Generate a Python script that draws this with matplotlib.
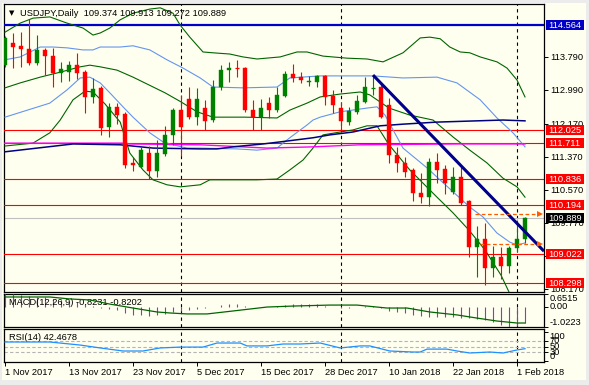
import matplotlib
matplotlib.use("Agg")
import matplotlib.pyplot as plt
import matplotlib.transforms as mtrans
from matplotlib.patches import Rectangle

W, H = 589, 385
BG = "#FFFFF0"
FRAME = "#ECECEC"
UP = "#008000"
DOWN = "#FF0000"
FS = 6.7

plt.rcParams['font.family'] = ['Liberation Sans', 'DejaVu Sans']

# ── data: daily bars, index 0 = 1 Nov 2017 ... 65 = 2 Feb 2018 ──────────────
opens = [113.59, 114.13, 114.05, 113.98, 113.64, 113.96, 113.81, 113.40, 113.42, 113.59,
         113.43, 112.82, 113.04, 112.09, 112.58, 112.40, 111.22, 111.13, 111.46, 111.02,
         111.44, 111.90, 112.50, 112.77, 112.33, 112.55, 112.26, 113.06, 113.47, 113.52,
         113.52, 112.50, 112.33, 112.67, 112.50, 112.85, 113.38, 113.30, 113.18, 113.18,
         113.33, 112.85, 112.55, 112.21, 112.45, 112.70, 113.04, 113.06, 112.62, 111.41,
         111.22, 111.05, 110.49, 110.39, 111.24, 111.07, 110.51, 110.88, 110.30, 109.18,
         109.38, 108.67, 108.94, 108.72, 109.16, 109.374]
highs = [114.30, 114.37, 114.39, 114.71, 114.32, 114.00, 114.00, 113.67, 113.69, 113.88,
         113.47, 113.28, 113.09, 112.67, 112.67, 112.45, 111.36, 111.61, 111.63, 111.78,
         112.11, 112.55, 112.87, 113.06, 113.04, 112.75, 113.23, 113.59, 113.67, 113.72,
         113.55, 112.75, 112.77, 112.82, 113.06, 113.45, 113.62, 113.42, 113.33, 113.35,
         113.35, 113.00, 112.70, 112.58, 112.87, 113.30, 113.33, 113.16, 112.79, 111.61,
         111.36, 111.10, 110.98, 111.34, 111.46, 111.17, 111.12, 111.12, 110.32, 109.69,
         109.76, 109.21, 109.18, 109.21, 109.84, 109.913]
lows = [113.55, 113.52, 113.55, 113.60, 113.59, 113.35, 113.06, 113.18, 113.21, 113.25,
        112.43, 112.67, 111.90, 111.85, 112.16, 111.10, 111.02, 111.10, 110.83, 110.88,
        111.40, 111.65, 111.39, 112.28, 112.14, 112.02, 112.21, 112.99, 113.18, 113.30,
        112.45, 112.02, 112.02, 112.31, 112.45, 112.82, 113.18, 113.16, 113.09, 113.06,
        112.62, 112.43, 112.02, 112.14, 112.40, 112.67, 112.87, 112.31, 111.22, 111.00,
        110.88, 110.30, 110.25, 110.18, 110.73, 110.47, 110.47, 110.20, 108.94, 108.45,
        108.26, 108.45, 108.41, 108.55, 109.06, 109.272]
closes = [114.25, 114.03, 113.98, 113.64, 113.96, 113.81, 113.40, 113.50, 113.59, 113.40,
          112.82, 113.01, 112.07, 112.58, 112.38, 111.17, 111.17, 111.53, 111.02, 111.46,
          111.90, 112.50, 112.09, 112.33, 112.77, 112.24, 113.06, 113.47, 113.52, 113.50,
          112.50, 112.33, 112.55, 112.50, 112.87, 113.38, 113.28, 113.23, 113.21, 113.33,
          112.82, 112.62, 112.24, 112.48, 112.72, 113.06, 113.06, 112.33, 111.41, 111.22,
          111.00, 110.49, 110.39, 111.24, 111.05, 110.73, 110.88, 110.25, 109.18, 109.38,
          108.67, 108.94, 108.72, 109.16, 109.38, 109.889]

date_idx = [0, 8, 16, 24, 32, 40, 48, 56, 64]
date_lbl = ["1 Nov 2017", "13 Nov 2017", "23 Nov 2017", "5 Dec 2017", "15 Dec 2017",
            "28 Dec 2017", "10 Jan 2018", "22 Jan 2018", "1 Feb 2018"]
sep_idx = [22, 42, 64]          # month separators (1 Dec, 2 Jan, 1 Feb)

# Bollinger bands (bar index, price)
bb2u_x = [0, 1.9, 3.5, 5.6, 7.75, 9.75, 11, 11.9, 13.1, 14.4, 16, 18.1, 19.4, 21, 21.9, 23.1,
          24.75, 26, 28.1, 29.75, 31.5, 34.4, 36.5, 37.75, 39.75, 42.75, 45.25, 47.25, 49.75,
          51.9, 53.1, 54.4, 55.6, 56.9, 58.1, 59.4, 61.5, 62.75, 64, 65]
bb2u_y = [114.39, 114.61, 114.73, 114.76, 114.61, 114.49, 114.32, 114.37, 114.49, 114.69,
          114.85, 114.95, 114.98, 114.85, 114.56, 114.27, 113.91, 113.89, 113.86, 113.79,
          113.74, 113.79, 113.91, 113.91, 113.81, 113.76, 113.74, 113.67, 113.89, 114.25,
          114.27, 114.23, 114.03, 113.91, 113.89, 113.79, 113.67, 113.52, 113.23, 112.82]
mid_x = [0, 1.9, 4.4, 6.9, 9.4, 10.6, 11.9, 14, 16, 18, 20, 22, 24, 26, 30, 34, 35.6, 37.75,
         39.4, 41.9, 44.4, 45.6, 48, 50.6, 53.5, 56, 58.1, 60.25, 62.25, 64, 65]
mid_y = [113.04, 113.16, 113.30, 113.42, 113.55, 113.59, 113.55, 113.47, 113.30, 113.11,
         112.92, 112.70, 112.46, 112.33, 112.33, 112.31, 112.50, 112.67, 112.82, 112.89,
         112.94, 112.87, 112.55, 112.38, 112.26, 111.85, 111.53, 111.22, 110.85, 110.64, 110.39]
bb2l_x = [0, 3.5, 5.6, 6.9, 8.5, 10, 11, 12.5, 14.4, 15.6, 17.25, 18.5, 20.25, 21.9, 24.4,
          25.6, 31.5, 34, 35.6, 37.25, 38.5, 39.75, 41.9, 43.5, 45.25, 46.5, 48, 50.6, 54, 56,
          58, 60, 62, 63, 64, 65]
bb2l_y = [111.63, 111.70, 111.95, 112.26, 112.75, 112.96, 112.94, 112.65, 112.21, 111.46,
          111.05, 110.81, 110.69, 110.64, 110.69, 110.81, 110.81, 110.83, 111.05, 111.29,
          111.58, 111.90, 111.97, 112.02, 112.12, 112.12, 111.66, 111.05, 110.39, 110.01,
          109.59, 109.11, 108.50, 108.09, 107.66, 107.17]
bb1u_x = [0, 1.9, 4.4, 6, 7.75, 9.75, 11, 11.9, 14.4, 16, 18.1, 20.25, 22.25, 24.4, 26,
          29.75, 34, 35.6, 39.4, 46, 49.75, 54, 56.5, 59.4, 61.5, 63.5, 65]
bb1u_y = [113.72, 113.79, 114.03, 114.03, 114.01, 113.96, 113.96, 114.03, 114.03, 114.06,
          113.96, 113.72, 113.52, 113.28, 113.06, 113.04, 113.06, 113.28, 113.33, 113.33,
          113.28, 113.30, 113.16, 112.75, 112.31, 111.95, 111.61]
bb1l_x = [0, 5.6, 7.75, 9.4, 10.6, 11.9, 13.1, 14.75, 16, 18.1, 19.75, 21, 22.75, 24.4, 29,
          31.5, 34, 35.6, 37.75, 38.5, 39.4, 41.9, 45.25, 46.5, 47.5, 49.75, 52.75, 56, 58.1,
          59.75, 61.5, 63.1, 64, 65]
bb1l_y = [112.33, 112.67, 112.99, 113.28, 113.30, 113.16, 112.92, 112.58, 112.33, 111.95,
          111.73, 111.66, 111.58, 111.58, 111.56, 111.53, 111.58, 111.83, 112.14, 112.26,
          112.33, 112.46, 112.55, 112.58, 112.38, 111.58, 111.10, 110.52, 110.15, 109.91,
          109.52, 109.30, 109.23, 109.28]

# slow moving averages
ma_navy_x = [0, 8.5, 14.4, 18.5, 24.4, 26.5, 28.5, 32.25, 34.4, 38.5, 40.6, 43.5, 46.9,
             49.75, 54, 62.25, 65]
ma_navy_y = [111.49, 111.68, 111.66, 111.58, 111.56, 111.56, 111.61, 111.68, 111.73, 111.83,
             111.90, 111.97, 112.12, 112.16, 112.21, 112.26, 112.24]
ma_mag_x = [0, 14.6, 15.6, 24.4, 32.75, 38.5, 44.4, 56.5, 65]
ma_mag_y = [111.70, 111.70, 111.68, 111.66, 111.58, 111.61, 111.66, 111.68, 111.68]

# trendline from the 8 Jan high
trend_x = [46, 67.375]
trend_y = [113.35, 109.08]

level_blue = 114.564
levels_red = [112.025, 111.711, 110.836, 110.194, 109.022, 108.298]
bid = 109.889
arrow_y = [109.975, 109.248]
arrow_x0 = [58.75, 59.4]

price_ticks = [113.790, 112.990, 112.170, 111.370, 110.570, 109.770, 108.970, 108.170]

# MACD(12,26,9)
macd_main = [0.65, 0.63, 0.60, 0.55, 0.52, 0.48, 0.40, 0.35, 0.30, 0.25,
             0.12, 0.05, -0.08, -0.12, -0.18, -0.32, -0.40, -0.42, -0.45, -0.42,
             -0.35, -0.25, -0.22, -0.15, -0.10, -0.08, 0.00, 0.08, 0.12, 0.12,
             0.02, -0.02, 0.00, 0.00, 0.03, 0.10, 0.12, 0.12, 0.12, 0.12,
             0.05, 0.00, -0.05, -0.06, -0.03, 0.02, 0.05, -0.05, -0.20, -0.26,
             -0.31, -0.41, -0.46, -0.51, -0.51, -0.53, -0.53, -0.56, -0.58, -0.61,
             -0.66, -0.77, -0.92, -1.0223, -0.95, -0.8231]
sig_x = [0, 5.6, 8.1, 10.6, 13.1, 16, 19, 20.6, 22.75, 25.25, 28.5, 32.75, 36, 40.6, 44,
         47.75, 50.25, 53.1, 56.5, 59, 61.5, 64, 65]
sig_y = [0.50, 0.50, 0.40, 0.35, 0.14, -0.06, -0.26, -0.31, -0.36, -0.36, -0.21, -0.01,
         0.04, 0.09, 0.09, -0.06, -0.06, -0.26, -0.41, -0.57, -0.72, -0.82, -0.8202]

# RSI(14)
rsi_x = [0, 5.6, 9.4, 11.9, 14.75, 17.25, 19.4, 21.9, 24.75, 26.5, 29.4, 30.25, 32.75,
         34.75, 36.9, 39.4, 41.9, 44.4, 45.6, 48.1, 51, 51.9, 52.75, 55.25, 56.5, 58.1,
         60.6, 62.25, 64, 65]
rsi_y = [65.5, 65.5, 55, 45, 34.5, 34.5, 45, 48, 48, 62, 62, 52, 52, 58.6, 58.6, 62, 45,
         52, 52, 34.5, 31, 31, 41, 41, 34.5, 27.6, 31, 27.6, 38, 42.4678]


# ── figure ───────────────────────────────────────────────────────────────────
fig = plt.figure(figsize=(W / 100, H / 100), dpi=100)
fig.patch.set_facecolor(FRAME)
fig.add_artist(Rectangle((2 / W, 5 / H), 584 / W, 377 / H, transform=fig.transFigure,
                         facecolor=BG, edgecolor="none", zorder=0))


def px_axes(x0, y0, x1, y1):
    a = fig.add_axes([x0 / W, 1 - y1 / H, (x1 - x0) / W, (y1 - y0) / H])
    a.set_facecolor(BG)
    for s in a.spines.values():
        s.set_linewidth(0.9)
        s.set_color("black")
    a.set_xlim(-0.125, 67.375)
    a.set_xticks([])
    a.yaxis.tick_right()
    a.tick_params(axis="y", direction="out", length=3, width=0.7, pad=1.5,
                  labelsize=FS, colors="black")
    return a


ax = px_axes(4, 4, 544, 292)
axm = px_axes(4, 294, 544, 327)
axr = px_axes(4, 329, 544, 362)

ax.set_ylim(108.091, 115.073)
axm.set_ylim(-1.0223, 0.6515)
axr.set_ylim(-3.4, 110.3)

# separators in all panels
for a in (ax, axm, axr):
    for s in sep_idx:
        a.axvline(s, color="black", lw=0.8, ls=(0, (3, 3)), zorder=1)

# levels
ax.axhline(level_blue, color="#0000C8", lw=1.6, zorder=3)
for lv in levels_red:
    ax.axhline(lv, color="#FF0000", lw=0.8, zorder=3)
ax.axhline(bid, color="#C0C0C0", lw=0.8, zorder=2)

# bands and averages
ax.plot(bb2u_x, bb2u_y, color="#006400", lw=0.8, zorder=4)
ax.plot(mid_x, mid_y, color="#006400", lw=0.8, zorder=4)
ax.plot(bb2l_x, bb2l_y, color="#006400", lw=0.8, zorder=4)
ax.plot(bb1u_x, bb1u_y, color="#6495ED", lw=0.8, zorder=4)
ax.plot(bb1l_x, bb1l_y, color="#6495ED", lw=0.8, zorder=4)
ax.plot(ma_mag_x, ma_mag_y, color="#FF00FF", lw=1.0, zorder=4)
ax.plot(ma_navy_x, ma_navy_y, color="#000080", lw=1.1, zorder=4)

# candles
for i, (o, h, l, c) in enumerate(zip(opens, highs, lows, closes)):
    col = UP if c >= o else DOWN
    ax.vlines(i, l, h, color=col, lw=0.8, zorder=5)
    if abs(c - o) < 0.02:
        ax.hlines(o, i - 0.31, i + 0.31, color=col, lw=0.9, zorder=6)
    else:
        ax.bar(i, abs(c - o), bottom=min(o, c), width=0.62, color=col,
               edgecolor=col, linewidth=0.3, zorder=6)

ax.plot(trend_x, trend_y, color="#00008B", lw=2.2, zorder=7, solid_capstyle="butt")

for yv, x0 in zip(arrow_y, arrow_x0):
    ax.plot([x0, 66.6], [yv, yv], color="#FF5A00", lw=0.9, ls=(0, (3, 2)), zorder=7)
    ax.plot([66.9], [yv], marker=">", color="#FF5A00", ms=4, mew=0, zorder=7,
            clip_on=False)

ax.set_yticks(price_ticks)
ax.set_yticklabels([f"{v:.3f}" for v in price_ticks])

tr = mtrans.blended_transform_factory(ax.transAxes, ax.transData)
box_h = 10 / 41.25


def level_box(price, text, fc):
    ax.add_patch(Rectangle((1.0028, price - box_h / 2), 0.0713, box_h, transform=tr,
                           facecolor=fc, edgecolor="none", clip_on=False, zorder=20))
    ax.text(1.0072, price - 0.01, text, transform=tr, color="white", fontsize=FS,
            va="center", ha="left", clip_on=False, zorder=21)


level_box(level_blue, f"{level_blue:.3f}", "#0000C8")
for lv in levels_red:
    level_box(lv, f"{lv:.3f}", "#FF0000")
level_box(bid, f"{bid:.3f}", "black")

# header
fig.text(9 / W, 1 - 13 / H, "\u25BC", fontsize=5, family="DejaVu Sans", va="center",
         color="black")
fig.text(20 / W, 1 - 13 / H,
         f"USDJPY,Daily  {opens[-1]:.3f} {highs[-1]:.3f} {lows[-1]:.3f} {closes[-1]:.3f}",
         fontsize=FS, va="center", color="black")

# MACD panel
axm.vlines(range(len(macd_main)), 0, macd_main, color="#9932CC", lw=0.8, zorder=3)
axm.plot(sig_x, sig_y, color="#006400", lw=0.9, zorder=4)
axm.set_yticks([0.6515, 0.0, -1.0223])
axm.set_yticklabels([])
trm = mtrans.blended_transform_factory(axm.transAxes, axm.transData)
axm.text(1.0105, 0.6515, "0.6515", transform=trm, fontsize=FS, va="top", ha="left")
axm.text(1.0105, 0.0, "0.00", transform=trm, fontsize=FS, va="center", ha="left")
axm.text(1.0105, -1.0223, "-1.0223", transform=trm, fontsize=FS, va="bottom", ha="left")
axm.text(0.009, 0.75, f"MACD(12,26,9) {macd_main[-1]:.4f} {sig_y[-1]:.4f}",
         transform=axm.transAxes, fontsize=FS, va="center", ha="left")

# RSI panel
for lv in (70, 50, 30):
    axr.axhline(lv, color="#B4B4B4", lw=0.8, ls=(0, (3, 2)), zorder=2)
axr.plot(rsi_x, rsi_y, color="#1E90FF", lw=0.9, zorder=4)
axr.set_yticks([100, 70, 50, 30, 0])
axr.set_yticklabels([])
trr = mtrans.blended_transform_factory(axr.transAxes, axr.transData)
axr.text(1.0105, 100, "100", transform=trr, fontsize=FS, va="top", ha="left")
for lv in (70, 50, 30):
    axr.text(1.0105, lv, str(lv), transform=trr, fontsize=FS, va="center", ha="left")
axr.text(1.0105, 0, "0", transform=trr, fontsize=FS, va="bottom", ha="left")
axr.text(0.009, 0.75, f"RSI(14) {rsi_y[-1]:.4f}", transform=axr.transAxes,
         fontsize=FS, va="center", ha="left")

# date axis
axr.set_xticks(date_idx)
axr.set_xticklabels(date_lbl, ha="left")
axr.tick_params(axis="x", direction="out", length=3, width=0.7, pad=1.5,
                labelsize=FS, colors="black")

fig.savefig("out.png", dpi=100, facecolor=FRAME)
